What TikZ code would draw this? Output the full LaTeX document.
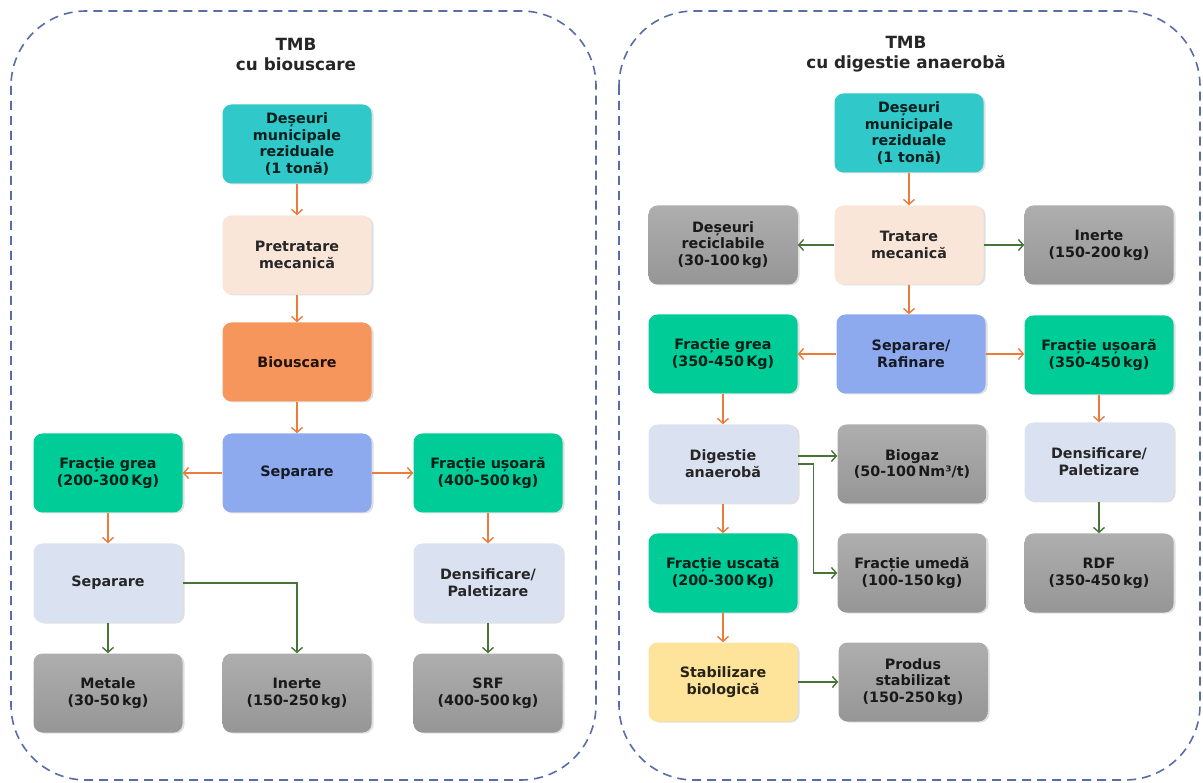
\documentclass[tikz,border=0pt]{standalone}
\usepackage{fontspec}
\setmainfont{DejaVu Sans}
\usepackage{tikz}
\usetikzlibrary{arrows.meta,shadows}
\definecolor{panel-line}{RGB}{88,108,170}
\definecolor{teal-fill}{RGB}{48,200,200}
\definecolor{peach-fill}{RGB}{250,230,216}
\definecolor{orange-fill}{RGB}{247,150,92}
\definecolor{blue-fill}{RGB}{142,170,238}
\definecolor{green-fill}{RGB}{0,204,152}
\definecolor{pale-fill}{RGB}{218,226,242}
\definecolor{yellow-fill}{RGB}{253,228,154}
\definecolor{grey-top}{RGB}{174,174,174}
\definecolor{grey-bottom}{RGB}{150,150,150}
\definecolor{orange-arrow}{RGB}{236,124,60}
\definecolor{green-arrow}{RGB}{72,116,56}
\tikzset{
    flow-box/.style = {rectangle, rounded corners=9pt, minimum width=149pt, minimum height=79pt, align=center, font=\fontsize{14.3}{16.8}\selectfont\bfseries, inner sep=2pt, drop shadow={shadow xshift=2pt, shadow yshift=-1pt, opacity=0.25}},
    teal-box/.style = {flow-box, fill=teal-fill, text=teal-fill!15!black},
    peach-box/.style = {flow-box, fill=peach-fill, text=black!85},
    orange-box/.style = {flow-box, fill=orange-fill, text=orange-fill!12!black},
    blue-box/.style = {flow-box, fill=blue-fill, text=blue-fill!15!black},
    green-box/.style = {flow-box, fill=green-fill, text=green-fill!15!black},
    pale-box/.style = {flow-box, fill=pale-fill, text=black!85},
    yellow-box/.style = {flow-box, fill=yellow-fill, text=yellow-fill!15!black},
    grey-box/.style = {flow-box, top color=grey-top, bottom color=grey-bottom, text=black!90},
    panel/.style = {draw=panel-line, line width=1.6pt, rounded corners=75pt, dash pattern=on 9pt off 6pt},
    panel-title/.style = {align=center, font=\fontsize{16.8}{20}\selectfont\bfseries, text=black!85},
    orange-flow/.style = {draw=orange-arrow, line width=1.4pt, -{Straight Barb[length=5pt,width=11pt]}},
    green-flow/.style = {draw=green-arrow, line width=1.4pt, -{Straight Barb[length=5pt,width=11pt]}},
}
\begin{document}
\begin{tikzpicture}[x=1pt,y=-1pt]
\useasboundingbox (0,0) rectangle (1203,783);
% panels
\draw[panel] (11,11) rectangle (596,780);
\draw[panel] (619,11) rectangle (1200,780);
\node[panel-title] (title-bio) at (296,54) {TMB\\cu biouscare};
\node[panel-title] (title-ad) at (906,54) {TMB\\cu digestie anaerobă};

% TMB cu biouscare
\node[teal-box] (waste-bio) at (297,144) {Deșeuri\\municipale\\reziduale\\(1 tonă)};
\node[peach-box] (pretreat) at (297,255) {Pretratare\\mecanică};
\node[orange-box] (biodry) at (297,362) {Biouscare};
\node[blue-box] (sep-bio) at (297,473) {Separare};
\node[green-box] (heavy-bio) at (108,473) {Fracție grea\\(200-300\,Kg)};
\node[green-box] (light-bio) at (488,473) {Fracție ușoară\\(400-500\,kg)};
\node[pale-box] (sep-heavy) at (108,583) {Separare};
\node[pale-box] (dens-bio) at (488,583) {Densificare/\\Paletizare};
\node[grey-box] (metals) at (108,693) {Metale\\(30-50\,kg)};
\node[grey-box] (inert-bio) at (297,693) {Inerte\\(150-250\,kg)};
\node[grey-box] (srf) at (488,693) {SRF\\(400-500\,kg)};

\draw[orange-flow] (waste-bio) -- (pretreat);
\draw[orange-flow] (pretreat) -- (biodry);
\draw[orange-flow] (biodry) -- (sep-bio);
\draw[orange-flow] (sep-bio) -- (heavy-bio);
\draw[orange-flow] (sep-bio) -- (light-bio);
\draw[orange-flow] (heavy-bio) -- (sep-heavy);
\draw[orange-flow] (light-bio) -- (dens-bio);
\draw[green-flow] (sep-heavy) -- (metals);
\draw[green-flow] (sep-heavy.east) -| (inert-bio.north);
\draw[green-flow] (dens-bio) -- (srf);

% TMB cu digestie anaeroba
\node[teal-box] (waste-ad) at (909,133) {Deșeuri\\municipale\\reziduale\\(1 tonă)};
\node[peach-box] (treat) at (909,245) {Tratare\\mecanică};
\node[grey-box] (recycl) at (723,245) {Deșeuri\\reciclabile\\(30-100\,kg)};
\node[grey-box] (inert-ad) at (1099,245) {Inerte\\(150-200\,kg)};
\node[blue-box] (sep-ad) at (911,354) {Separare/\\Rafinare};
\node[green-box] (heavy-ad) at (723,354) {Fracție grea\\(350-450\,Kg)};
\node[green-box] (light-ad) at (1099,355) {Fracție ușoară\\(350-450\,kg)};
\node[pale-box] (digest) at (723,464) {Digestie\\anaerobă};
\node[grey-box] (biogas) at (912,464) {Biogaz\\(50-100\,Nm³/t)};
\node[pale-box] (dens-ad) at (1099,462) {Densificare/\\Paletizare};
\node[green-box] (dry) at (723,573) {Fracție uscată\\(200-300\,Kg)};
\node[grey-box] (wet) at (912,573) {Fracție umedă\\(100-150\,kg)};
\node[grey-box] (rdf) at (1099,573) {RDF\\(350-450\,kg)};
\node[yellow-box] (stab) at (723,682) {Stabilizare\\biologică};
\node[grey-box] (product) at (913,682) {Produs\\stabilizat\\(150-250\,kg)};

\draw[orange-flow] (waste-ad) -- (treat);
\draw[green-flow] (treat) -- (recycl);
\draw[green-flow] (treat) -- (inert-ad);
\draw[orange-flow] (treat.south) -- (treat.south |- sep-ad.north);
\draw[orange-flow] (sep-ad) -- (heavy-ad);
\draw[orange-flow] (sep-ad.east) -- (light-ad.west |- sep-ad.east);
\draw[orange-flow] (heavy-ad) -- (digest);
\draw[orange-flow] (light-ad) -- (dens-ad);
\draw[green-flow] ([yshift=8pt]digest.east) -- ([yshift=8pt]biogas.west);
\draw[green-flow] (digest.east) -- ++(16,0) |- (wet.west);
\draw[orange-flow] (digest) -- (dry);
\draw[orange-flow] (dry) -- (stab);
\draw[green-flow] (stab) -- (product);
\draw[green-flow] (dens-ad) -- (rdf);
\end{tikzpicture}
\end{document}
